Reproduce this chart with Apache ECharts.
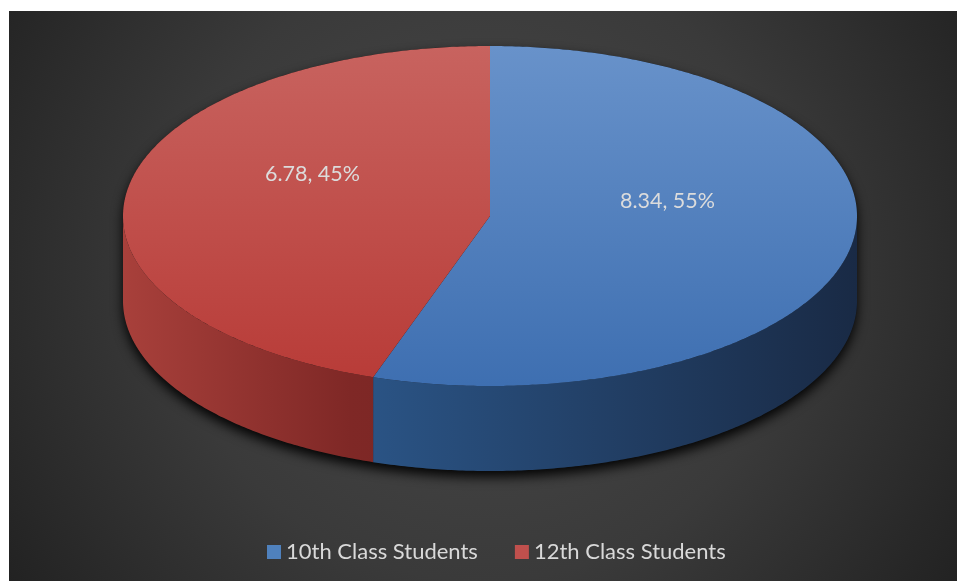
<!DOCTYPE html>
<html>
<head>
<meta charset="utf-8">
<script src="https://cdn.jsdelivr.net/npm/echarts@6/dist/echarts.min.js"></script>
<style>
  html, body { margin: 0; padding: 0; background: #ffffff; }
  #chart { position: absolute; left: 9px; top: 11px; width: 948px; height: 570px; }
</style>
</head>
<body>
<div id="chart"></div>
<script>
// Student counts by class (lakh)
const categories = ['10th Class Students', '12th Class Students'];
const values = [8.34, 6.78];

// Face colours for each slice: top face (light -> dark), side wall (light -> dark)
const topColors = [['#6892ca', '#3e6fb1'], ['#c8635f', '#b83b37']];
const sideColors = [['#2b5587', '#192a45'], ['#a8403b', '#7f2826']];
const legendColors = ['#4f81bd', '#c0504d'];

// Tilted disc geometry (pixels inside the chart container)
const CX = 481, CY = 205, RX = 367, RY = 170, DEPTH = 85;

const total = values.reduce((a, b) => a + b, 0);
const startFrac = [];
values.reduce((acc, v, i) => { startFrac[i] = acc / total; return acc + v; }, 0);

function ellipsePt(a, dy) {
  return [CX + RX * Math.cos(a), CY + RY * Math.sin(a) + (dy || 0)];
}
function arcPts(a0, a1, dy) {
  const n = Math.max(2, Math.ceil(Math.abs(a1 - a0) / 0.01));
  const pts = [];
  for (let i = 0; i <= n; i++) pts.push(ellipsePt(a0 + (a1 - a0) * i / n, dy));
  return pts;
}

function sliceRenderer(idx) {
  return function (params, api) {
    const v = api.value(0);
    const a0 = -Math.PI / 2 + startFrac[idx] * 2 * Math.PI;
    const a1 = a0 + v / total * 2 * Math.PI;
    const children = [];

    // front-facing outer wall
    const sideFill = {
      type: 'linear', global: true, x: CX - RX, y: 0, x2: CX + RX, y2: 0,
      colorStops: idx === 0
        ? [{ offset: 0, color: '#3a6aa3' }, { offset: 0.31, color: sideColors[0][0] }, { offset: 1, color: sideColors[0][1] }]
        : [{ offset: 0, color: sideColors[1][0] }, { offset: 0.31, color: sideColors[1][1] }, { offset: 1, color: '#5e1d1c' }]
    };
    for (let k = -1; k <= 1; k++) {
      const s = Math.max(a0, k * 2 * Math.PI);
      const e = Math.min(a1, k * 2 * Math.PI + Math.PI);
      if (e > s) {
        const pts = arcPts(s, e, 0).concat(arcPts(e, s, DEPTH));
        children.push({ type: 'polygon', z2: 1, shape: { points: pts }, style: { fill: sideFill } });
      }
    }

    // top face
    const topPts = [[CX, CY]].concat(arcPts(a0, a1, 0));
    children.push({
      type: 'polygon', z2: 2, shape: { points: topPts },
      style: {
        fill: {
          type: 'linear', global: true, x: 0, y: CY - RY, x2: 0, y2: CY + RY,
          colorStops: [{ offset: 0, color: topColors[idx][0] }, { offset: 1, color: topColors[idx][1] }]
        }
      }
    });

    // value label
    const mid = (a0 + a1) / 2;
    const lp = [CX + RX * 0.49 * Math.cos(mid), CY + RY * 0.49 * Math.sin(mid) - 28];
    const pct = Math.round(v / total * 100);
    children.push({
      type: 'text', z2: 3, x: lp[0], y: lp[1],
      style: {
        text: v.toFixed(2) + ', ' + pct + '%',
        fill: '#dcdcdc', font: '21.5px Lato',
        align: 'center', verticalAlign: 'middle'
      }
    });
    return { type: 'group', children: children };
  };
}

// soft drop shadow under the whole disc
function shadowRenderer() {
  const pts = arcPts(Math.PI, 2 * Math.PI, 0).concat(arcPts(0, Math.PI, DEPTH));
  return {
    type: 'polygon', z2: 0, shape: { points: pts },
    style: { fill: '#111', shadowBlur: 12, shadowColor: 'rgba(0,0,0,0.95)', shadowOffsetY: 6 }
  };
}

const series = [{
  type: 'custom', coordinateSystem: 'none', silent: true,
  data: [0], renderItem: shadowRenderer, z: 1
}];
categories.forEach((name, i) => {
  series.push({
    name: name, type: 'custom', coordinateSystem: 'none',
    data: [values[i]], renderItem: sliceRenderer(i), z: 2,
    itemStyle: { color: legendColors[i] }
  });
});

const chart = echarts.init(document.getElementById('chart'), null, { renderer: 'canvas' });
chart.setOption({
  animation: false,
  backgroundColor: {
    type: 'radial', x: 0.5, y: 0.45, r: 1,
    colorStops: [{ offset: 0, color: '#4a4a4a' }, { offset: 0.55, color: '#3a3a3a' }, { offset: 1, color: '#222222' }]
  },
  legend: {
    data: categories,
    left: 253, top: 525,
    icon: 'rect', itemWidth: 14, itemHeight: 14, itemGap: 37,
    textStyle: { color: '#d9d9d9', fontSize: 22, fontFamily: 'Lato' }
  },
  series: series
});
</script>
</body>
</html>
